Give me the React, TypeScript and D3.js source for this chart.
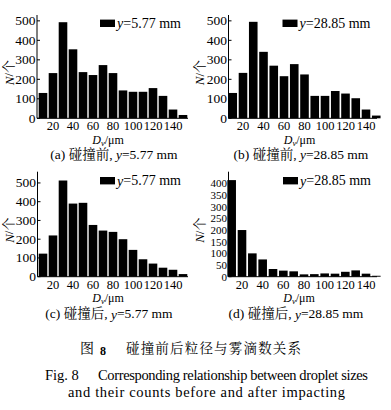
import React from 'react';
import * as d3 from 'd3';

// droplet size bins (µm) and counts
const sizes = [10, 20, 30, 40, 50, 60, 70, 80, 90, 100, 110, 120, 130, 140, 150];
const beforeLow = [130, 232, 493, 354, 237, 222, 273, 232, 143, 136, 136, 155, 115, 45, 17];
const beforeHigh = [130, 233, 495, 341, 270, 216, 278, 225, 115, 115, 140, 127, 103, 45, 14];
const afterLow = [123, 220, 513, 390, 394, 276, 246, 239, 200, 143, 93, 70, 48, 37, 14];
const afterHigh = [414, 200, 100, 74, 33, 26, 23, 10, 11, 14, 13, 21, 27, 13, 4];

const xTicks = [20, 40, 60, 80, 100, 120, 140];
const yTicksWide = [0, 100, 200, 300, 400, 500];
const yTicksNarrow = [0, 50, 100, 150, 200, 250, 300, 350, 400];

const FONT = "'Liberation Serif', 'Noto Serif CJK SC', 'Noto Sans CJK SC', serif";

type PanelProps = {
  values: number[];
  yTicks: number[];
  yTickSize: number;
  yMax: number;
  left: number;
  right: number;
  x20: number;
  x140: number;
  top: number;
  bottom: number;
  legendX: number;
  legendY: number;
  legend: string;
  labelX: number;
  caption: string;
  captionX: number;
  captionY: number;
  captionTag: string;
};

const Panel = (p: PanelProps) => {
  const x = d3.scaleLinear().domain([20, 140]).range([p.x20, p.x140]);
  const y = d3.scaleLinear().domain([0, p.yMax]).range([p.bottom, p.top]);
  const bw = 8.6;
  const midY = (p.top + p.bottom) / 2 + 6;

  return (
    <g fontFamily={FONT} fill="#000">
      {p.values.map((v, i) => (
        <rect key={i} x={x(sizes[i]) - bw / 2} y={y(v)} width={bw} height={y(0) - y(v)} fill="#000" />
      ))}
      <line x1={p.left} x2={p.left} y1={p.top} y2={p.bottom} stroke="#000" strokeWidth={1} />
      <line x1={p.left} x2={p.right} y1={p.bottom} y2={p.bottom} stroke="#000" strokeWidth={1} />
      {p.yTicks.map(t => (
        <g key={t}>
          <line x1={p.left} x2={p.left + 3} y1={y(t)} y2={y(t)} stroke="#000" />
          <text x={p.left - 1.5} y={y(t)} textAnchor="end" dominantBaseline="central" fontSize={p.yTickSize}>{t}</text>
        </g>
      ))}
      {xTicks.map(t => (
        <text key={t} x={x(t)} y={p.bottom + 8} textAnchor="middle" dominantBaseline="central" fontSize={12.5}>{t}</text>
      ))}
      <text x={(p.x20 + p.x140) / 2 - 5} y={p.bottom + 21.5} textAnchor="middle" dominantBaseline="central" fontSize={12}>
        <tspan fontStyle="italic">D</tspan>
        <tspan fontStyle="italic" fontSize={8.5} dy={3}>v</tspan>
        <tspan dy={-3}>/μm</tspan>
      </text>
      <text transform={`translate(${p.labelX},${midY}) rotate(-90)`} textAnchor="middle" dominantBaseline="central" fontSize={13}>
        <tspan fontStyle="italic">N</tspan>/个
      </text>
      <rect x={p.legendX} y={p.legendY - 3.7} width={15} height={7.4} fill="#000" />
      <text x={p.legendX + 17} y={p.legendY} dominantBaseline="central" fontSize={14}>
        <tspan fontStyle="italic">y</tspan>={p.legend} mm
      </text>
      <text x={p.captionX} y={p.captionY} textAnchor="middle" dominantBaseline="central" fontSize={13.5}>
        ({p.captionTag}) {p.caption}, <tspan fontStyle="italic">y</tspan>={p.legend} mm
      </text>
    </g>
  );
};

const App = () => {
  return (
    <svg width={391} height={410} style={{ position: 'absolute', left: 0, top: 0, background: '#fff' }}>
      <rect width={391} height={410} fill="#fff" />
      <Panel values={beforeLow} yTicks={yTicksWide} yTickSize={13.5} yMax={530} left={37} right={188} x20={53} x140={173}
        top={15} bottom={118.3} legendX={100} legendY={23.3} legend="5.77" labelX={8.5}
        caption="碰撞前" captionTag="a" captionX={114} captionY={154} />
      <Panel values={beforeHigh} yTicks={yTicksWide} yTickSize={13.5} yMax={530} left={228.5} right={377} x20={243} x140={366}
        top={15} bottom={118.3} legendX={282.5} legendY={23.3} legend="28.85" labelX={199}
        caption="碰撞前" captionTag="b" captionX={301} captionY={154} />
      <Panel values={afterLow} yTicks={yTicksWide} yTickSize={13.5} yMax={560} left={37.5} right={188} x20={53} x140={173}
        top={171.7} bottom={276.7} legendX={100} legendY={180.7} legend="5.77" labelX={8.5}
        caption="碰撞后" captionTag="c" captionX={109} captionY={313.5} />
      <Panel values={afterHigh} yTicks={yTicksNarrow} yTickSize={11} yMax={450} left={228.5} right={377} x20={242} x140={366}
        top={171.7} bottom={276.7} legendX={283} legendY={180.7} legend="28.85" labelX={199}
        caption="碰撞后" captionTag="d" captionX={296} captionY={313.5} />
      <g fontFamily={FONT} fill="#000">
        <text x={80} y={348} dominantBaseline="central" fontSize={14}>图</text>
        <text x={100} y={351} dominantBaseline="central" fontSize={12} fontWeight="bold">8</text>
        <text x={126} y={348} dominantBaseline="central" fontSize={13.5} textLength={175} lengthAdjust="spacing">碰撞前后粒径与雾滴数关系</text>
        <text x={45} y={375} dominantBaseline="central" fontSize={14.5}>Fig. 8</text>
        <text x={98} y={375} dominantBaseline="central" fontSize={14.5} textLength={270} lengthAdjust="spacing">Corresponding relationship between droplet sizes</text>
        <text x={68} y={392} dominantBaseline="central" fontSize={14.5} textLength={277} lengthAdjust="spacing">and their counts before and after impacting</text>
      </g>
    </svg>
  );
};

export default App;
